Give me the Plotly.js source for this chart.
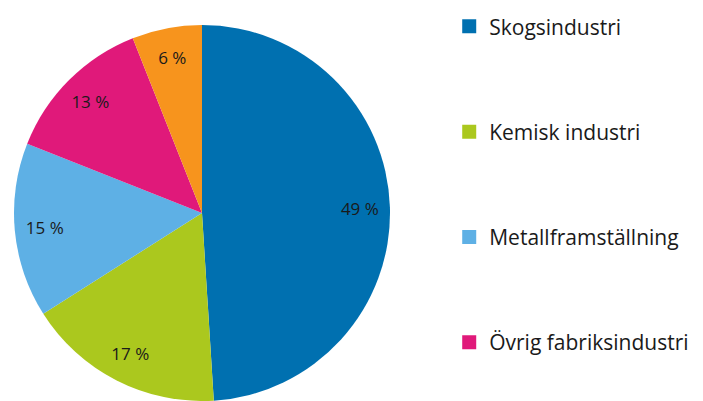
<!DOCTYPE html>
<html>
<head>
<meta charset="utf-8">
<script src="https://cdn.plot.ly/plotly-3.0.1.min.js"></script>
<style>html,body{margin:0;padding:0;background:#fff;}#chart{width:703px;height:401px;}</style>
</head>
<body>
<div id="chart"></div>
<script>
const labels = ["Skogsindustri", "Kemisk industri", "Metallframställning", "Övrig fabriksindustri", "Övrigt"];
const values = [49, 17, 15, 13, 6];
const colors = ["#0070b0", "#abc81e", "#5eb0e5", "#e0197a", "#f7941d"];
const legendShown = [true, true, true, true, false];

const dom = {x: [14/703, 390/703], y: [0, 1]};
const pieBase = {
  type: 'pie', labels: labels, values: values, sort: false,
  direction: 'clockwise', rotation: 0, domain: dom, showlegend: false,
  hoverinfo: 'none'
};
const traces = [
  Object.assign({}, pieBase, {
    marker: {colors: colors, line: {width: 0}},
    textinfo: 'none'
  }),
  Object.assign({}, pieBase, {
    hole: 0.68,
    marker: {colors: colors.map(() => 'rgba(0,0,0,0)'), line: {width: 0}},
    texttemplate: '%{value} %',
    textposition: 'inside',
    insidetextorientation: 'horizontal',
    textfont: {family: 'Open Sans, sans-serif', size: 17, color: '#1a1a1a'}
  })
];
labels.forEach((name, i) => {
  traces.push({
    type: 'scatter', mode: 'markers', x: [null], y: [null], name: name,
    legendgroup: 'g' + i, showlegend: legendShown[i],
    marker: {symbol: 'square', size: 14, color: colors[i]},
    hoverinfo: 'skip'
  });
});

const layout = {
  width: 703, height: 401,
  margin: {l: 0, r: 0, t: 25, b: 0},
  paper_bgcolor: '#ffffff', plot_bgcolor: '#ffffff',
  xaxis: {visible: false, domain: [0.99, 1]},
  yaxis: {visible: false},
  showlegend: true,
  legend: {
    x: 0.639, xanchor: 'left', y: 1.05, yanchor: 'top',
    tracegroupgap: 75,
    maxheight: 2000,
    font: {family: 'Open Sans, sans-serif', size: 21, color: '#1a1a1a'},
    itemwidth: 30
  }
};
Plotly.newPlot('chart', traces, layout, {staticPlot: true});
</script>
</body>
</html>
